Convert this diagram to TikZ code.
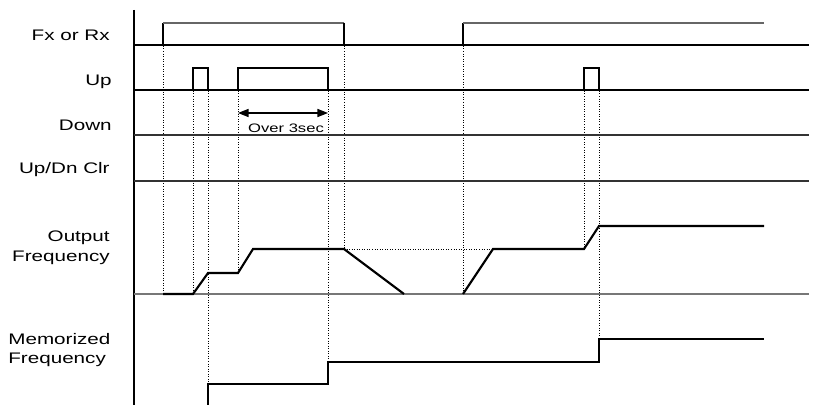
\documentclass[tikz,border=0pt]{standalone}
\usepackage{fontspec}
\newfontfamily\lblfont[FakeStretch=1.35]{Liberation Sans}
\usetikzlibrary{arrows.meta}
\definecolor{sigtop}{HTML}{666666}
\definecolor{zeroline}{HTML}{777777}

\begin{document}
\begin{tikzpicture}[x=0.02cm, y=-0.02cm,
  lbl/.style={font=\lblfont\fontsize{8.7}{11.3}\selectfont, inner sep=0pt},
  small/.style={font=\lblfont\fontsize{7}{8}\selectfont, inner sep=0pt},
  base/.style={line width=0.6pt},
  pulse/.style={line width=0.6pt},
  freq/.style={line width=1.2pt},
  guide/.style={densely dotted, line width=0.45pt}]

\useasboundingbox (0,0) rectangle (827,405);

% Labels
\node[lbl, anchor=east] (fx) at (110,35) {Fx or Rx};
\node[lbl, anchor=east] (up) at (112,82) {Up};
\node[lbl, anchor=east] (down) at (112,125) {Down};
\node[lbl, anchor=east] (clr) at (110,170) {Up/Dn Clr};
\node[lbl, anchor=east, align=right] (out) at (110,248) {Output\\Frequency};
\node[lbl, anchor=west, align=left] (mem) at (8,350) {Memorized\\Frequency};

% Guides
\draw[guide] (163,23) -- (163,294);
\draw[guide] (193,68) -- (193,294);
\draw[guide] (208,68) -- (208,384);
\draw[guide] (238,68) -- (238,273);
\draw[guide] (328,68) -- (328,362);
\draw[guide] (344,23) -- (344,249);
\draw[guide] (463,23) -- (463,294);
\draw[guide] (584,68) -- (584,249);
\draw[guide] (599,68) -- (599,339);
\draw[guide] (344,249) -- (493,249);

% Axis and base lines
\draw[base] (134,10) -- (134,405);
\draw[base] (134,45) -- (809,45);
\draw[base] (134,90) -- (809,90);
\draw[base, draw=black!80] (134,135) -- (809,135);
\draw[base, draw=black!80] (134,181) -- (809,181);
\draw[draw=zeroline, line width=0.9pt] (134,294) -- (809,294);

% Fx or Rx
\draw[pulse] (163,45) -- (163,23);
\draw[line width=0.8pt, draw=sigtop] (163,23) -- (344,23);
\draw[pulse] (344,23) -- (344,45);
\draw[pulse] (463,45) -- (463,23);
\draw[line width=0.8pt, draw=sigtop] (463,23) -- (764,23);

% Up
\draw[pulse] (193,90) -- (193,68) -- (208,68) -- (208,90);
\draw[pulse] (238,90) -- (238,68) -- (328,68) -- (328,90);
\draw[pulse] (584,90) -- (584,68) -- (599,68) -- (599,90);

% Over 3sec
\coordinate (hold1) at (238,113);
\coordinate (hold2) at (328,113);
\draw[line width=0.7pt, {Triangle[length=6pt, width=4.6pt]}-{Triangle[length=6pt, width=4.6pt]}] (hold1) -- (hold2);
\node[small] (hold) at (286,128) {Over 3sec};

% Output Frequency
\draw[freq] (163,294) -- (193,294) -- (208,273) -- (238,273) -- (253,249) -- (344,249) -- (404,294);
\draw[freq] (463,294) -- (493,249) -- (584,249) -- (599,226) -- (764,226);

% Memorized Frequency
\draw[freq] (208,405) -- (208,384) -- (328,384) -- (328,362) -- (599,362) -- (599,339) -- (764,339);

\end{tikzpicture}
\end{document}
